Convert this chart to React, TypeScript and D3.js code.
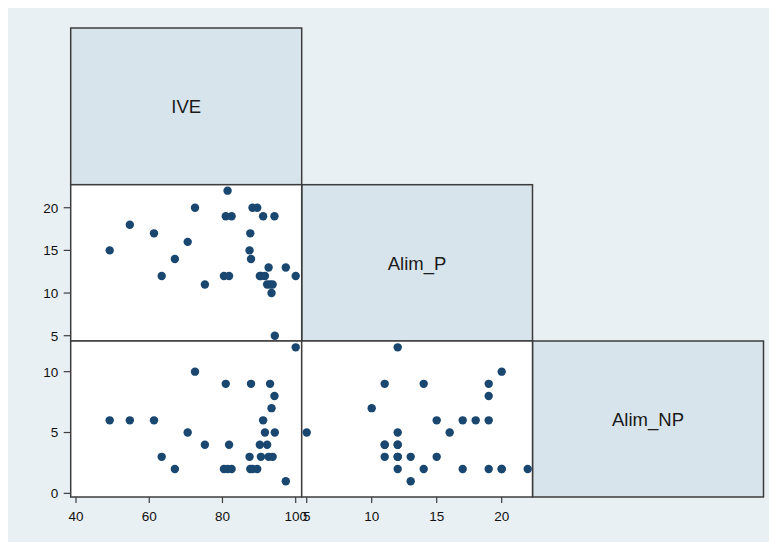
import React from "react";
import * as d3 from "d3";

// ---- Data (one entry per observation) ----
const IVE = [49.2, 54.7, 61.3, 63.4, 67.0, 70.5, 72.5, 75.2, 80.4, 80.9, 81.4, 81.8, 82.5, 87.4, 87.6, 87.8, 88.2, 89.5, 90.2, 90.5, 91.1, 91.6, 92.2, 92.6, 93.0, 93.4, 93.7, 94.2, 94.3, 97.3, 100.0];
const ALIM_P = [15, 18, 17, 12, 14, 16, 20, 11, 12, 19, 22, 12, 19, 15, 17, 14, 20, 20, 12, 12, 19, 12, 11, 13, 11, 10, 11, 19, 5, 13, 12];
const ALIM_NP = [6, 6, 6, 3, 2, 5, 10, 4, 2, 9, 2, 4, 2, 3, 2, 9, 2, 2, 4, 3, 6, 5, 4, 3, 9, 7, 3, 8, 5, 1, 12];

const VAR_NAMES = ["IVE", "Alim_P", "Alim_NP"];
const IVE_TICKS = [40, 60, 80, 100];
const ALIM_P_TICKS = [5, 10, 15, 20];
const ALIM_NP_TICKS = [0, 5, 10];

// ---- Layout (page coordinates) ----
const W = 761;
const H = 534;
const colEdges = [70.7, 301.7, 532.5, 763.5];
const rowEdges = [28, 184.7, 341, 497];

const BG = "#e9f0f3";
const DIAG = "#d8e4eb";
const BORDER = "#3c3c3c";
const MARK = "#1a476f";
const FONT = "'Liberation Sans', Arial, sans-serif";

// scales
const xIVE = d3.scaleLinear().domain([38.55, 101.64]).range([colEdges[0], colEdges[1]]);
const xP = d3.scaleLinear().domain([4.615, 22.37]).range([colEdges[1], colEdges[2]]);
const yP = d3.scaleLinear().domain([4.38, 22.7]).range([rowEdges[2], rowEdges[1]]);
const yNP = d3.scaleLinear().domain([-0.3, 12.52]).range([rowEdges[3], rowEdges[2]]);

const idx = d3.range(IVE.length);

function XAxis({ scale, ticks, y }: { scale: any; ticks: number[]; y: number }) {
  return (
    <g>
      {ticks.map((t) => (
        <g key={t}>
          <line x1={scale(t)} x2={scale(t)} y1={y} y2={y + 6} stroke={BORDER} strokeWidth={1.2} />
          <text x={scale(t)} y={y + 24} textAnchor="middle" fontSize={13.5} fontFamily={FONT} fill="#111">
            {t}
          </text>
        </g>
      ))}
    </g>
  );
}

function YAxis({ scale, ticks, x }: { scale: any; ticks: number[]; x: number }) {
  return (
    <g>
      {ticks.map((t) => (
        <g key={t}>
          <line x1={x - 7} x2={x} y1={scale(t)} y2={scale(t)} stroke={BORDER} strokeWidth={1.2} />
          <text x={x - 12.5} y={scale(t)} dy="0.36em" textAnchor="end" fontSize={13.5} fontFamily={FONT} fill="#111">
            {t}
          </text>
        </g>
      ))}
    </g>
  );
}

export default function App() {
  const diag = [0, 1, 2];
  const scatterPanels = [
    { r: 1, c: 0 },
    { r: 2, c: 0 },
    { r: 2, c: 1 },
  ];
  return (
    <svg
      width={W}
      height={H}
      style={{ position: "absolute", left: 8, top: 8, display: "block" }}
    >
      <g transform="translate(-8,-8)">
        <rect x={8} y={8} width={W} height={H} fill={BG} />
        {diag.map((i) => (
          <g key={"d" + i}>
            <rect
              x={colEdges[i]}
              y={rowEdges[i]}
              width={colEdges[i + 1] - colEdges[i]}
              height={rowEdges[i + 1] - rowEdges[i]}
              fill={DIAG}
              stroke={BORDER}
              strokeWidth={1.5}
            />
            <text
              x={(colEdges[i] + colEdges[i + 1]) / 2}
              y={(rowEdges[i] + rowEdges[i + 1]) / 2 + 7}
              textAnchor="middle"
              fontSize={18.5}
              fontFamily={FONT}
              fill="#1a1a1a"
            >
              {VAR_NAMES[i]}
            </text>
          </g>
        ))}
        {scatterPanels.map(({ r, c }) => (
          <rect
            key={`p${r}${c}`}
            x={colEdges[c]}
            y={rowEdges[r]}
            width={colEdges[c + 1] - colEdges[c]}
            height={rowEdges[r + 1] - rowEdges[r]}
            fill="#ffffff"
            stroke={BORDER}
            strokeWidth={1.5}
          />
        ))}
        {/* axes */}
        <YAxis scale={yP} ticks={ALIM_P_TICKS} x={colEdges[0]} />
        <YAxis scale={yNP} ticks={ALIM_NP_TICKS} x={colEdges[0]} />
        <XAxis scale={xIVE} ticks={IVE_TICKS} y={rowEdges[3]} />
        <XAxis scale={xP} ticks={ALIM_P_TICKS} y={rowEdges[3]} />
        {/* points: IVE vs Alim_P */}
        {idx.map((i) => (
          <circle key={"a" + i} cx={xIVE(IVE[i])} cy={yP(ALIM_P[i])} r={4.2} fill={MARK} />
        ))}
        {/* IVE vs Alim_NP */}
        {idx.map((i) => (
          <circle key={"b" + i} cx={xIVE(IVE[i])} cy={yNP(ALIM_NP[i])} r={4.2} fill={MARK} />
        ))}
        {/* Alim_P vs Alim_NP */}
        {idx.map((i) => (
          <circle key={"c" + i} cx={xP(ALIM_P[i])} cy={yNP(ALIM_NP[i])} r={4.2} fill={MARK} />
        ))}
      </g>
    </svg>
  );
}
